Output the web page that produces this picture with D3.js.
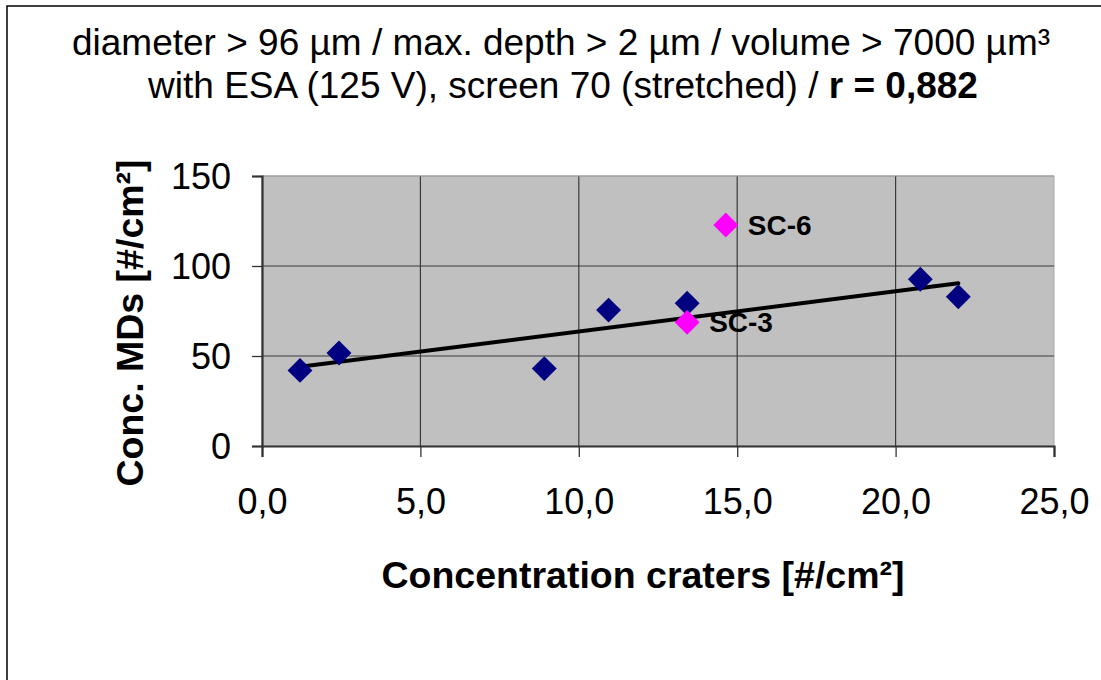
<!DOCTYPE html>
<html><head><meta charset="utf-8">
<script src="https://cdn.jsdelivr.net/npm/d3@7"></script>
<style>body{margin:0;background:#fff}text{font-family:"Liberation Sans",Arial,sans-serif}</style>
</head><body>
<svg id="c" width="1101" height="680"></svg>
<script>
const blueX = [1.2, 2.43, 8.91, 10.94, 13.42, 20.78, 21.98];
const blueY = [42, 51.7, 43, 75.5, 79.3, 92.6, 82.9];
const pinkX = [14.64, 13.42];
const pinkY = [122.8, 68.7];
const pinkLabels = ["SC-6", "SC-3"];
const xTicks = [0, 5, 10, 15, 20, 25];
const yTicks = [0, 50, 100, 150];
const titleLine1 = "diameter > 96 µm / max. depth > 2 µm / volume > 7000 µm³";
const titleLine2a = "with ESA (125 V), screen 70 (stretched) / ";
const titleLine2b = "r = 0,882";
const xTitle = "Concentration craters [#/cm²]";
const yTitle = "Conc. MDs [#/cm²]";

const svg = d3.select("#c");
const L = 262, R = 1054, T = 176, B = 446;
const x = d3.scaleLinear().domain([0, 25]).range([L, R]);
const y = d3.scaleLinear().domain([0, 150]).range([B, T]);

// outer border
svg.append("rect").attr("x", 7).attr("y", 6).attr("width", 1200).attr("height", 800)
  .attr("fill", "#fff").attr("stroke", "#000").attr("stroke-width", 1.5);

// plot area
svg.append("rect").attr("x", L).attr("y", T).attr("width", R - L).attr("height", B - T)
  .attr("fill", "#c0c0c0").attr("stroke", "#a8a8a8").attr("stroke-width", 1);

// gridlines
svg.append("g").selectAll("line").data(xTicks.slice(1, -1)).join("line")
  .attr("x1", d => x(d)).attr("x2", d => x(d)).attr("y1", T).attr("y2", B)
  .attr("stroke", "#3a3a3a").attr("stroke-width", 1.2);
svg.append("g").selectAll("line").data(yTicks.slice(1, -1).concat([150])).join("line")
  .attr("x1", L).attr("x2", R).attr("y1", d => y(d)).attr("y2", d => y(d))
  .attr("stroke", d => d === 150 ? "#9a9a9a" : "#3a3a3a").attr("stroke-width", 1.2);

// axes
const fmtX = d => d3.format(".1f")(d).replace(".", ",");
const xAxis = svg.append("g").attr("transform", `translate(0,${B})`)
  .call(d3.axisBottom(x).tickValues(xTicks).tickSize(11).tickPadding(31).tickFormat(fmtX));
const yAxis = svg.append("g").attr("transform", `translate(${L},0)`)
  .call(d3.axisLeft(y).tickValues(yTicks).tickSize(10).tickPadding(21).tickFormat(d3.format("d")));
[xAxis, yAxis].forEach(a => {
  a.select(".domain").attr("stroke", "#333").attr("stroke-width", 2.2);
  a.selectAll(".tick line").attr("stroke", "#333").attr("stroke-width", 1.3);
  a.selectAll(".tick text").attr("fill", "#000").style("font-size", "36px")
    .style("font-family", '"Liberation Sans",Arial,sans-serif');
});
yAxis.selectAll(".tick text").attr("dy", "0.36em");

// trend line (least squares on blue series)
const mx = d3.mean(blueX), my = d3.mean(blueY);
const slope = d3.sum(blueX, (v, i) => (v - mx) * (blueY[i] - my)) / d3.sum(blueX, v => (v - mx) ** 2);
const icpt = my - slope * mx;
const x0 = d3.min(blueX), x1 = d3.max(blueX);
svg.append("line").attr("x1", x(x0)).attr("y1", y(icpt + slope * x0))
  .attr("x2", x(x1)).attr("y2", y(icpt + slope * x1))
  .attr("stroke", "#000").attr("stroke-width", 4).attr("stroke-linecap", "round");

// markers
const sym = d3.symbol().type(d3.symbolSquare).size(310);
function diamonds(xs, ys, col) {
  svg.append("g").selectAll("path").data(xs.map((v, i) => [v, ys[i]])).join("path")
    .attr("d", sym).attr("fill", col)
    .attr("transform", d => `translate(${x(d[0])},${y(d[1])}) rotate(45)`);
}
diamonds(blueX, blueY, "#000080");
diamonds(pinkX, pinkY, "#ff00ff");

// data labels
svg.append("g").selectAll("text").data(pinkLabels).join("text")
  .attr("x", (d, i) => x(pinkX[i]) + 22).attr("y", (d, i) => y(pinkY[i]) + 10)
  .style("font-size", "28px").style("font-weight", "bold").text(d => d);

// title
svg.append("text").attr("x", 561).attr("y", 55).attr("text-anchor", "middle")
  .style("font-size", "37px").text(titleLine1);
const t2 = svg.append("text").attr("x", 563).attr("y", 98).attr("text-anchor", "middle")
  .style("font-size", "37px");
t2.append("tspan").text(titleLine2a);
t2.append("tspan").style("font-weight", "bold").text(titleLine2b);

// axis titles
svg.append("text").attr("x", 643).attr("y", 588).attr("text-anchor", "middle")
  .style("font-size", "37.5px").style("font-weight", "bold").text(xTitle);
svg.append("text").attr("transform", "translate(143,323) rotate(-90)").attr("text-anchor", "middle")
  .style("font-size", "37.5px").style("font-weight", "bold").text(yTitle);
</script>
</body></html>
